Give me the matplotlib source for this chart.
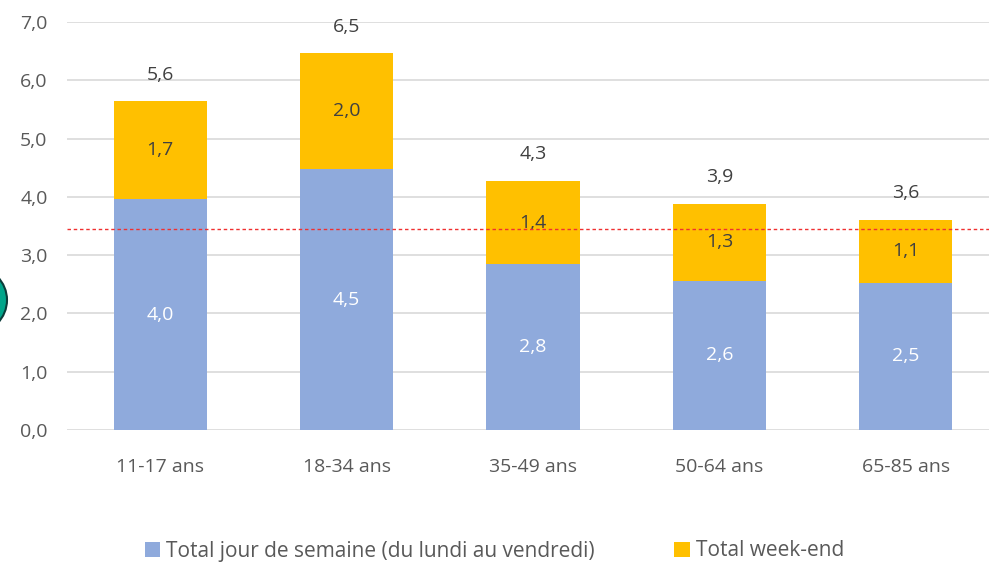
import matplotlib.pyplot as plt
import matplotlib.patches as mpatches

plt.rcParams['font.family'] = ['Open Sans', 'DejaVu Sans']

categories = ["11-17 ans", "18-34 ans", "35-49 ans", "50-64 ans", "65-85 ans"]
semaine = [3.96, 4.47, 2.84, 2.56, 2.53]
weekend = [1.68, 1.99, 1.44, 1.32, 1.08]
ref_line = 3.44

c_sem = "#8FAADC"
c_we = "#FFC000"
txt = "#404040"
fs = 14

fig = plt.figure(figsize=(9.89, 5.65), dpi=100)
ax = fig.add_axes([67 / 989, 1 - 430 / 565, 1 - 67 / 989, (430 - 22) / 565])

x = range(len(categories))
b1 = ax.bar(x, semaine, width=0.5, color=c_sem, zorder=2,
            label="Total jour de semaine (du lundi au vendredi)")
b2 = ax.bar(x, weekend, width=0.5, bottom=semaine, color=c_we, zorder=2,
            label="Total week-end")

fmt = lambda v: f"{v:.1f}".replace(".", ",")
for i in x:
    ax.text(i, semaine[i] / 2, fmt(semaine[i]), ha="center", va="center",
            color="white", fontsize=fs, zorder=3)
    ax.text(i, semaine[i] + weekend[i] / 2, fmt(weekend[i]), ha="center", va="center",
            color=txt, fontsize=fs, zorder=3)
    tot = semaine[i] + weekend[i]
    ax.text(i, tot + 0.3, fmt(tot), ha="center", va="bottom",
            color=txt, fontsize=fs, zorder=3)

ax.axhline(ref_line, color="#F03030", lw=1, ls=(0, (2.5, 2)), zorder=4)

ax.set_ylim(0, 7)
ax.set_xlim(-0.5, 4.5 - 10 / 186.5)
ax.set_yticks([0, 1, 2, 3, 4, 5, 6, 7])
ax.set_yticklabels([fmt(v) for v in range(8)])
ax.set_xticks(list(x))
ax.set_xticklabels(categories)
ax.yaxis.grid(True, color="#D9D9D9", lw=1.2, zorder=0)
ax.set_axisbelow(True)
for s in ax.spines.values():
    s.set_visible(False)
ax.tick_params(length=0, labelsize=fs, labelcolor="#595959", pad=14)
ax.tick_params(axis="x", pad=20)

# partial teal circle on the left edge
circ = mpatches.Ellipse((-26 / 989, 1 - 300 / 565), 66 / 989, 66 / 565,
                        transform=fig.transFigure, facecolor="#00A58A",
                        edgecolor="#0B3D3A", lw=1.5, clip_on=False)
fig.patches.append(circ)

fig.legend(handles=[b1, b2], loc="center", bbox_to_anchor=(0.5, 1 - 551 / 565),
           ncol=2, frameon=False, fontsize=15, handlelength=0.75, handleheight=0.75,
           handletextpad=0.3, columnspacing=3.8, labelcolor="#595959")

fig.savefig("out.png", dpi=100)
